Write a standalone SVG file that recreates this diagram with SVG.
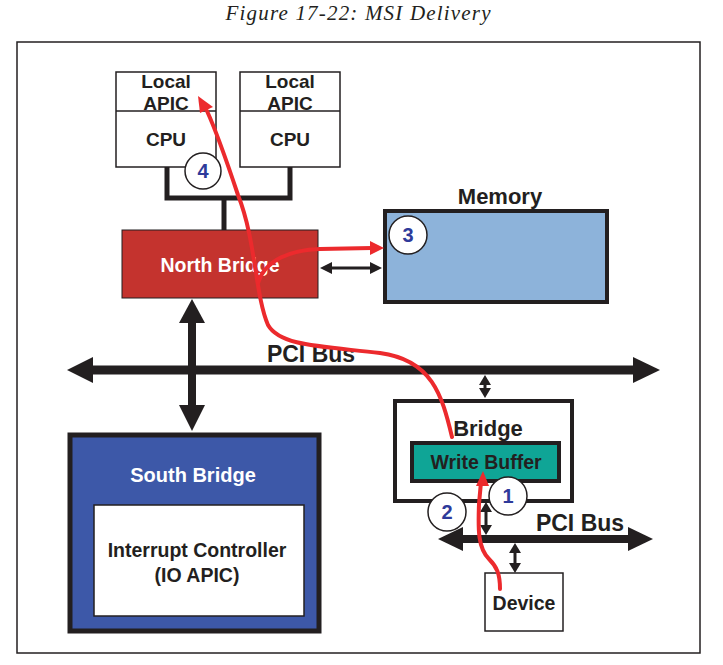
<svg xmlns="http://www.w3.org/2000/svg" width="723" height="665" viewBox="0 0 723 665">
<defs>
<style>
.t{font-family:"Liberation Sans",Arial,sans-serif;font-weight:bold;fill:#231f20;text-anchor:middle}
.w{fill:#ffffff}
.box{fill:#ffffff;stroke:#231f20;stroke-width:1.5}
.bus{stroke:#231f20;fill:none}
.red{stroke:#ec2a2d;stroke-width:4;fill:none;stroke-linecap:round}
.circ{fill:#ffffff;stroke:#231f20;stroke-width:1.5}
.num{font-family:"Liberation Sans",Arial,sans-serif;font-weight:bold;font-size:20px;fill:#2e3a9a;text-anchor:middle}
</style>
</defs>
<rect width="723" height="665" fill="#ffffff"/>
<text x="358" y="20" font-family="'Liberation Serif',serif" font-style="italic" font-size="21" fill="#231f20" text-anchor="middle" textLength="265">Figure 17-22: MSI Delivery</text>
<rect x="17" y="42" width="683" height="611" fill="none" stroke="#231f20" stroke-width="1.5"/>

<g id="connectors">
<polyline points="167,167 167,198 290,198 290,167" class="bus" stroke-width="5"/>
<line x1="224" y1="198" x2="224" y2="230" class="bus" stroke-width="5"/>
<line x1="324" y1="268" x2="378" y2="268" class="bus" stroke-width="3"/>
<polygon points="320,268 332,262 332,274" fill="#231f20"/>
<polygon points="382,268 370,262 370,274" fill="#231f20"/>
<line x1="90" y1="370" x2="636" y2="370" class="bus" stroke-width="9"/>
<polygon points="67,370 93,357 93,383" fill="#231f20"/>
<polygon points="660,370 633,357 633,383" fill="#231f20"/>
<line x1="192" y1="320" x2="192" y2="408" class="bus" stroke-width="8"/>
<polygon points="192,299 179,323 205,323" fill="#231f20"/>
<polygon points="192,431 179,405 205,405" fill="#231f20"/>
<line x1="485" y1="380" x2="485" y2="393" class="bus" stroke-width="3"/>
<polygon points="485,375 479,385 491,385" fill="#231f20"/>
<polygon points="485,398 479,388 491,388" fill="#231f20"/>
<line x1="460" y1="539" x2="630" y2="539" class="bus" stroke-width="8"/>
<polygon points="438,539 463,527 463,551" fill="#231f20"/>
<polygon points="653,539 628,527 628,551" fill="#231f20"/>
<line x1="486" y1="507" x2="486" y2="530" class="bus" stroke-width="3"/>
<polygon points="486,502 480,512 492,512" fill="#231f20"/>
<polygon points="486,535 480,525 492,525" fill="#231f20"/>
<line x1="515" y1="548" x2="515" y2="568" class="bus" stroke-width="3"/>
<polygon points="515,543 509,553 521,553" fill="#231f20"/>
<polygon points="515,573 509,563 521,563" fill="#231f20"/>
</g>

<g id="cpu1">
<rect x="116" y="72" width="100" height="95" class="box"/>
<line x1="116" y1="111" x2="216" y2="111" stroke="#231f20" stroke-width="1.5"/>
<text x="166" y="88" class="t" font-size="19">Local</text>
<text x="166" y="110" class="t" font-size="19">APIC</text>
<text x="166" y="146" class="t" font-size="19">CPU</text>
</g>
<g id="cpu2">
<rect x="240" y="72" width="100" height="95" class="box"/>
<line x1="240" y1="111" x2="340" y2="111" stroke="#231f20" stroke-width="1.5"/>
<text x="290" y="88" class="t" font-size="19">Local</text>
<text x="290" y="110" class="t" font-size="19">APIC</text>
<text x="290" y="146" class="t" font-size="19">CPU</text>
</g>
<g id="northbridge">
<rect x="122" y="230" width="196" height="68" fill="#c4332e" stroke="#231f20" stroke-width="1"/>
<text x="220" y="272" class="t w" font-size="19.5">North Bridge</text>
</g>
<g id="memory">
<text x="500" y="204" class="t" font-size="22">Memory</text>
<rect x="385" y="211" width="222" height="91" fill="#8db3da" stroke="#231f20" stroke-width="4"/>
</g>
<g id="southbridge">
<rect x="70" y="435" width="249" height="196" fill="#3d58a8" stroke="#231f20" stroke-width="5"/>
<text x="193" y="482" class="t w" font-size="20">South Bridge</text>
<rect x="94" y="505" width="210" height="111" class="box"/>
<text x="197" y="557" class="t" font-size="19.5">Interrupt Controller</text>
<text x="197" y="582" class="t" font-size="19.5">(IO APIC)</text>
</g>
<g id="bridge">
<rect x="395" y="401" width="177" height="100" fill="#ffffff" stroke="#231f20" stroke-width="4"/>
<text x="488" y="436" class="t" font-size="22">Bridge</text>
<rect x="412" y="443" width="147" height="38" fill="#0fa596" stroke="#231f20" stroke-width="4"/>
<text x="486" y="469" class="t" font-size="19.5">Write Buffer</text>
</g>
<g id="device">
<rect x="485" y="573" width="78" height="58" class="box" stroke-width="2"/>
<text x="524" y="610" class="t" font-size="19.5">Device</text>
</g>
<g id="pcibus-labels">
<text x="311" y="362" class="t" font-size="23" font-weight="normal">PCI Bus</text>
<text x="580" y="531" class="t" font-size="23" font-weight="normal">PCI Bus</text>
</g>

<g id="red-arrows">
<path d="M500,589 C500,574 497,567 489,559 C478,548 478,530 479,504 L481,482" class="red"/>
<polygon points="483,471 476,486 489,486" fill="#ec2a2d"/>
<path d="M452,437 C442,395 432,360 380,353 C320,346 280,346 268,325 C255,295 256,240 238,195 C228,165 218,135 207,111" class="red"/>
<polygon points="198,96 200,113 213,107" fill="#ec2a2d"/>
<path d="M258,283 C265,260 290,250 320,249 L372,248" class="red"/>
<polygon points="384,248 370,241 370,255" fill="#ec2a2d"/>
</g>

<g id="steps">
<circle cx="203" cy="171" r="18" class="circ"/>
<text x="203" y="178" class="num">4</text>
<circle cx="408" cy="235" r="19" class="circ"/>
<text x="408" y="242" class="num">3</text>
<circle cx="508" cy="496" r="19" class="circ"/>
<text x="508" y="503" class="num">1</text>
<circle cx="447" cy="512" r="19" class="circ"/>
<text x="447" y="519" class="num">2</text>
</g>
</svg>
